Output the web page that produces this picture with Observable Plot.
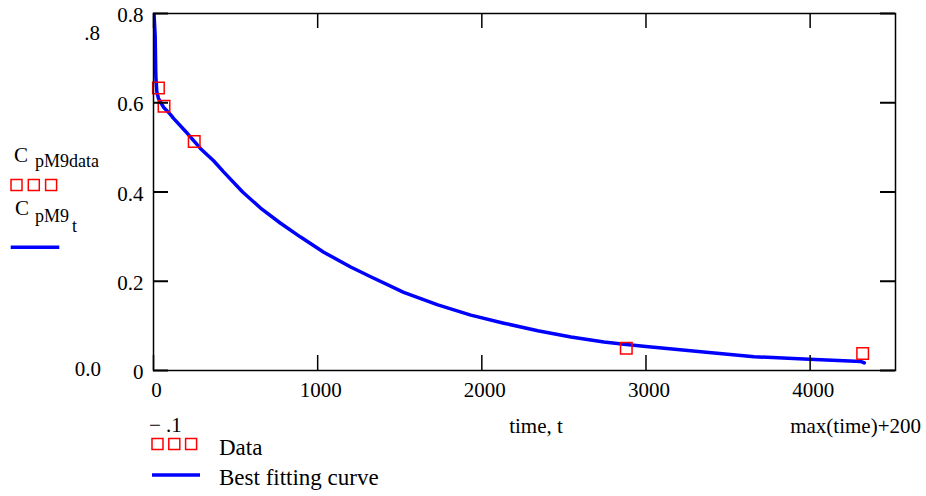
<!DOCTYPE html>
<html>
<head>
<meta charset="utf-8">
<script src="https://cdn.jsdelivr.net/npm/d3@7"></script>
<script src="https://cdn.jsdelivr.net/npm/@observablehq/plot@0.6"></script>
<style>
  html, body { margin: 0; padding: 0; background: white; }
  #chart { position: relative; width: 926px; height: 496px; }
  #chart svg, #chart svg text { font-family: "Liberation Serif", "Times New Roman", serif !important; }
</style>
</head>
<body>
<div id="chart"></div>
<script>
// ---- data ----
const dataTime = [30, 64, 248, 2880, 4320];
const dataConc = [0.633, 0.592, 0.513, 0.050, 0.038];

const curveTime = [0, 10, 14, 20, 30, 45, 61, 100, 122, 207, 287, 366, 427, 543, 652, 774, 896, 1037, 1201, 1323, 1524, 1732, 1933, 2134, 2341, 2543, 2744, 2866, 3000, 3335, 3659, 3994, 4311, 4330];
const curveConc = [0.82, 0.75, 0.66, 0.625, 0.610, 0.600, 0.590, 0.575, 0.565, 0.531, 0.497, 0.470, 0.445, 0.400, 0.364, 0.330, 0.299, 0.265, 0.232, 0.210, 0.175, 0.147, 0.124, 0.106, 0.089, 0.075, 0.064, 0.059, 0.054, 0.042, 0.031, 0.025, 0.020, 0.017];

const xTicks = [0, 1000, 2000, 3000, 4000];
const yTicks = [0, 0.2, 0.4, 0.6, 0.8];
const xDomain = [-0.1, 4520];
const yDomain = [0, 0.8];

const xMinLabel = "\u2212 .1";
const xMaxLabel = "max(time)+200";
const xAxisLabel = "time, t";
const yMaxLabel = ".8";
const yMinLabel = "0.0";
const legendLabels = ["Data", "Best fitting curve"];

// ---- build ----
const dataRows = dataTime.map((t, i) => ({t, c: dataConc[i]}));
const curveRows = curveTime.map((t, i) => ({t, c: curveConc[i]}));

const W = 926, H = 496;
const mL = 153, mR = 31, mT = 13, mB = 126;
const plotW = W - mL - mR, plotH = H - mT - mB;
const tickLen = 15;
const serif = "'Liberation Serif', 'Times New Roman', serif";

const plot = Plot.plot({
  width: W, height: H,
  marginLeft: mL, marginRight: mR, marginTop: mT, marginBottom: mB,
  style: {fontFamily: serif, fontSize: "21px", background: "white", color: "black", overflow: "visible"},
  x: {domain: xDomain, label: null},
  y: {domain: yDomain, label: null},
  marks: [
    Plot.axisX({ticks: xTicks, tickSize: 0, tickPadding: 12, dx: 3, tickFormat: d => String(d), fontSize: 21, fontFamily: serif, fontVariant: "normal"}),
    Plot.axisY({ticks: yTicks, tickSize: 0, tickPadding: 10, dy: 2, tickFormat: d => d === 0 ? "0" : d.toFixed(1), fontSize: 21, fontFamily: serif, fontVariant: "normal"}),
    Plot.line(curveRows, {x: "t", y: "c", stroke: "#0000ff", strokeWidth: 3.5, clip: true}),
    Plot.dot(dataRows, {x: "t", y: "c", symbol: "square", r: 6.5, stroke: "#ff0000", strokeWidth: 1.5, fill: "none"}),
    // inward ticks on all four sides
    Plot.tickX(xTicks, {x: d => d, insetTop: plotH - tickLen, stroke: "black", strokeWidth: 1.5}),
    Plot.tickX(xTicks, {x: d => d, insetBottom: plotH - tickLen, stroke: "black", strokeWidth: 1.5}),
    Plot.tickY(yTicks, {y: d => d, insetRight: plotW - tickLen, stroke: "black", strokeWidth: 2}),
    Plot.tickY(yTicks, {y: d => d, insetLeft: plotW - tickLen, stroke: "black", strokeWidth: 2}),
    Plot.frame({stroke: "black", strokeWidth: 1.5})
  ]
});

document.getElementById("chart").appendChild(plot);

// ---- extra annotations (Mathcad-style limits and legends) ----
const svg = d3.select(plot);
const g = svg.append("g").attr("font-family", serif).attr("fill", "black");

function txt(s, x, y, size, anchor = "start") {
  g.append("text").attr("x", x).attr("y", y).attr("font-size", size).attr("text-anchor", anchor).text(s);
}
function squares(x0, y0, gap) {
  for (let i = 0; i < 3; i++) {
    g.append("rect").attr("x", x0 + i * gap).attr("y", y0).attr("width", 11).attr("height", 11)
      .attr("fill", "none").attr("stroke", "#ff0000").attr("stroke-width", 1.5);
  }
}
function blueLine(x1, x2, y) {
  g.append("line").attr("x1", x1).attr("x2", x2).attr("y1", y).attr("y2", y)
    .attr("stroke", "#0000ff").attr("stroke-width", 3.5);
}

// y limits
txt(yMaxLabel, 100, 39.5, 21, "end");
txt(yMinLabel, 101, 376, 21, "end");

// left y-axis legend
txt("C", 14, 162, 21);
txt("pM9data", 35, 167, 18);
squares(11, 179.5, 17.3);
txt("C", 15, 215, 21);
txt("pM9", 35, 222, 18);
txt("t", 72, 232, 18);
blueLine(10.7, 59.3, 247.3);

// x limits and label
txt(xMinLabel, 149, 432, 21);
txt(xAxisLabel, 536, 433, 21, "middle");
txt(xMaxLabel, 921, 433, 21, "end");

// bottom legend
squares(152, 438.5, 16.8);
txt(legendLabels[0], 219, 455, 23);
blueLine(152, 200, 475);
txt(legendLabels[1], 219, 485, 23);
</script>
</body>
</html>
